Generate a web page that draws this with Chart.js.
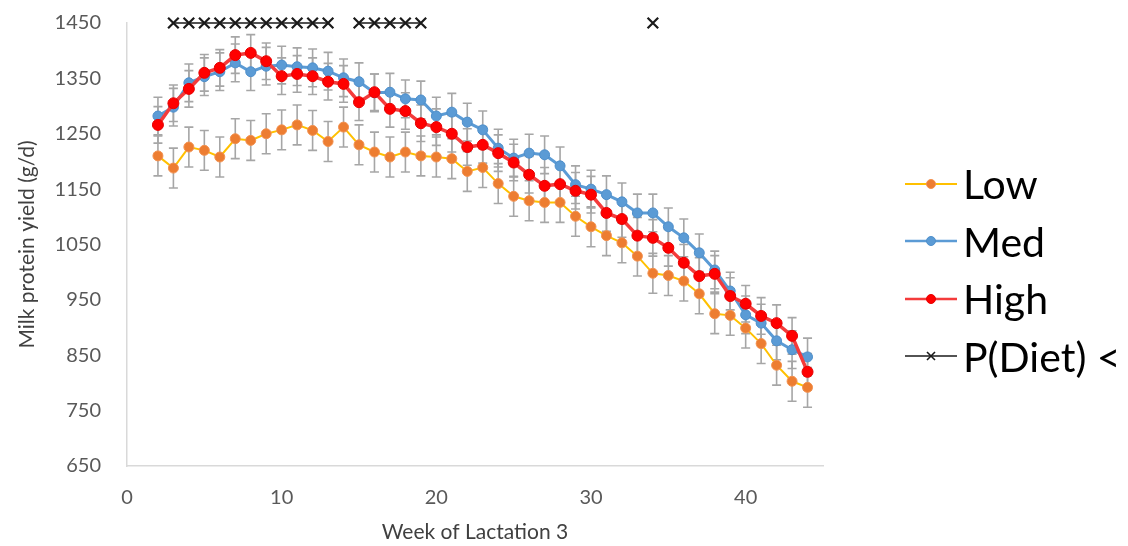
<!DOCTYPE html>
<html>
<head>
<meta charset="utf-8">
<title>Milk protein yield</title>
<script src="https://cdn.jsdelivr.net/npm/chart.js@4.4.1/dist/chart.umd.min.js"></script>
<style>
    body { margin: 0; background: #fff; }
    #wrap { position: relative; width: 1128px; height: 546px; overflow: hidden; }
    #chart { position: absolute; left: 0; top: 0; }
    #legend { position: absolute; left: 905px; top: 155px; font-family: Lato, sans-serif; font-size: 41px; color: #000; }
    .row { display: flex; align-items: center; height: 57.5px; white-space: nowrap; }
    .row canvas { margin-right: 6px; }
    .row span { line-height: 1; }
</style>
</head>
<body>
<div id="wrap">
    <canvas id="chart" width="860" height="546"></canvas>
    <div id="legend"></div>
</div>
<script>
// Week of lactation
const weeks = [2, 3, 4, 5, 6, 7, 8, 9, 10, 11, 12, 13, 14, 15, 16, 17, 18, 19, 20, 21, 22, 23,
    24, 25, 26, 27, 28, 29, 30, 31, 32, 33, 34, 35, 36, 37, 38, 39, 40, 41, 42, 43, 44];

// Milk protein yield (g/d) per diet
const low = [1210, 1188, 1226, 1220, 1208, 1241, 1238, 1250, 1257, 1266, 1256, 1236, 1262, 1230,
    1217, 1208, 1217, 1210, 1208, 1205, 1182, 1189, 1160, 1137, 1129, 1126, 1126, 1101, 1082,
    1066, 1053, 1029, 998, 994, 984, 961, 925, 922, 899, 871, 832, 803, 792];
const med = [1282, 1298, 1342, 1353, 1362, 1378, 1362, 1372, 1374, 1371, 1369, 1363, 1351, 1344,
    1324, 1325, 1313, 1311, 1282, 1289, 1271, 1257, 1224, 1206, 1215, 1212, 1192, 1158, 1150,
    1140, 1127, 1107, 1107, 1082, 1062, 1035, 1004, 966, 923, 908, 876, 860, 847];
const high = [1266, 1305, 1331, 1360, 1369, 1392, 1396, 1381, 1354, 1358, 1354, 1344, 1340, 1307,
    1325, 1295, 1291, 1269, 1262, 1250, 1226, 1230, 1215, 1198, 1176, 1156, 1159, 1147, 1140,
    1107, 1096, 1066, 1062, 1044, 1017, 993, 997, 957, 943, 921, 908, 885, 820];

// Standard error of each diet mean
const seLow = 36;
const seMed = 34;
const seHigh = 33;

// Weeks where the diet effect was significant, marked along the top
const pWeeks = [3, 4, 5, 6, 7, 8, 9, 10, 11, 12, 13, 15, 16, 17, 18, 19, 34];
const pLevel = 1450;

// Axis ranges
const xMin = 0, xMax = 45, xStep = 10;
const yMin = 650, yMax = 1450, yStep = 100;

function toPoints(values) {
    return weeks.map((w, i) => ({ x: w, y: values[i] }));
}

const series = [
    { label: 'Low', values: low, se: seLow, line: '#FFC000', lineWidth: 2, fill: '#ED7D31', border: '#F29150', radius: 5, order: 3 },
    { label: 'Med', values: med, se: seMed, line: '#5B9BD5', lineWidth: 3, fill: '#5B9BD5', border: '#4E8FCB', radius: 5, order: 2 },
    { label: 'High', values: high, se: seHigh, line: '#F43B3B', lineWidth: 3.5, fill: '#FF0000', border: '#E60000', radius: 5.5, order: 1 }
];

const datasets = series.map(s => ({
    label: s.label,
    data: toPoints(s.values),
    se: s.se,
    borderColor: s.line,
    borderWidth: s.lineWidth,
    pointBackgroundColor: s.fill,
    pointBorderColor: s.border,
    pointBorderWidth: 1,
    pointRadius: s.radius,
    tension: 0,
    order: s.order,
    clip: false
}));

datasets.push({
    label: 'P(Diet) <',
    data: weeks.map(w => ({ x: w, y: pWeeks.includes(w) ? pLevel : null })),
    borderColor: '#1A1A1A',
    borderWidth: 1.5,
    pointStyle: 'crossRot',
    pointRadius: 7.5,
    pointBorderWidth: 2.2,
    pointBorderColor: '#1A1A1A',
    spanGaps: false,
    order: 0,
    clip: false
});

// Grey error bars with caps, drawn under the lines
const errorBars = {
    id: 'errorBars',
    beforeDatasetsDraw(chart) {
        const { ctx, scales: { x, y } } = chart;
        ctx.save();
        ctx.strokeStyle = '#A6A6A6';
        ctx.lineWidth = 1.6;
        chart.data.datasets.forEach(ds => {
            if (!ds.se) return;
            ds.data.forEach(p => {
                const px = x.getPixelForValue(p.x);
                const top = y.getPixelForValue(p.y + ds.se);
                const bottom = y.getPixelForValue(p.y - ds.se);
                ctx.beginPath();
                ctx.moveTo(px, top);
                ctx.lineTo(px, bottom);
                ctx.moveTo(px - 4.5, top);
                ctx.lineTo(px + 4.5, top);
                ctx.moveTo(px - 4.5, bottom);
                ctx.lineTo(px + 4.5, bottom);
                ctx.stroke();
            });
        });
        ctx.restore();
    }
};

const tickFont = { family: 'Lato', size: 20 };
const titleFont = { family: 'Lato', size: 21 };

const chart = new Chart(document.getElementById('chart'), {
    type: 'line',
    data: { datasets: datasets },
    plugins: [errorBars],
    options: {
        responsive: false,
        animation: false,
        layout: { padding: { top: 23, right: 37, bottom: 0, left: 0 } },
        plugins: {
            legend: { display: false },
            tooltip: { enabled: false }
        },
        scales: {
            x: {
                type: 'linear',
                min: xMin,
                max: xMax,
                grid: { display: false, drawTicks: false },
                border: { display: true, color: '#D9D9D9', width: 1.5 },
                ticks: { stepSize: xStep, color: '#595959', font: tickFont, padding: 20, maxRotation: 0 },
                afterBuildTicks: scale => {
                    scale.ticks = scale.ticks.filter(t => t.value % xStep === 0);
                },
                afterFit: scale => { scale.height = 80; },
                title: {
                    display: true,
                    text: 'Week of Lactation 3',
                    color: '#404040',
                    font: Object.assign({ lineHeight: 1 }, titleFont),
                    padding: { top: 0, bottom: 3.5 }
                }
            },
            y: {
                min: yMin,
                max: yMax,
                // tick marks stay hidden; their length only spaces the labels off the axis
                grid: { display: false, drawTicks: true, tickLength: 26 },
                border: { display: true, color: '#D9D9D9', width: 1.5 },
                ticks: {
                    stepSize: yStep,
                    color: '#595959',
                    font: tickFont,
                    padding: 0,
                    callback: value => String(value)
                },
                afterFit: scale => { scale.width = 127; },
                title: {
                    display: true,
                    text: 'Milk protein yield (g/d)',
                    color: '#404040',
                    font: Object.assign({ lineHeight: 1 }, titleFont),
                    padding: { top: 17, bottom: 0 }
                }
            }
        }
    }
});

// Legend on the right: a line sample with its marker, then the name
function drawSample(ds) {
    const c = document.createElement('canvas');
    c.width = 52;
    c.height = 20;
    const g = c.getContext('2d');
    g.strokeStyle = ds.borderColor;
    g.lineWidth = Math.min(ds.borderWidth, 2.5);
    g.beginPath();
    g.moveTo(0, 10);
    g.lineTo(52, 10);
    g.stroke();
    if (ds.pointStyle === 'crossRot') {
        g.lineWidth = 1.6;
        g.beginPath();
        g.moveTo(22, 6); g.lineTo(30, 14);
        g.moveTo(30, 6); g.lineTo(22, 14);
        g.stroke();
    } else {
        g.fillStyle = ds.pointBackgroundColor;
        g.strokeStyle = ds.pointBorderColor;
        g.lineWidth = 1;
        g.beginPath();
        g.arc(26, 10, 4.5, 0, Math.PI * 2);
        g.fill();
        g.stroke();
    }
    return c;
}

const legend = document.getElementById('legend');
['Low', 'Med', 'High', 'P(Diet) <'].forEach(name => {
    const ds = datasets.find(d => d.label === name);
    const row = document.createElement('div');
    row.className = 'row';
    row.appendChild(drawSample(ds));
    const span = document.createElement('span');
    span.textContent = name;
    row.appendChild(span);
    legend.appendChild(row);
});
</script>
</body>
</html>
